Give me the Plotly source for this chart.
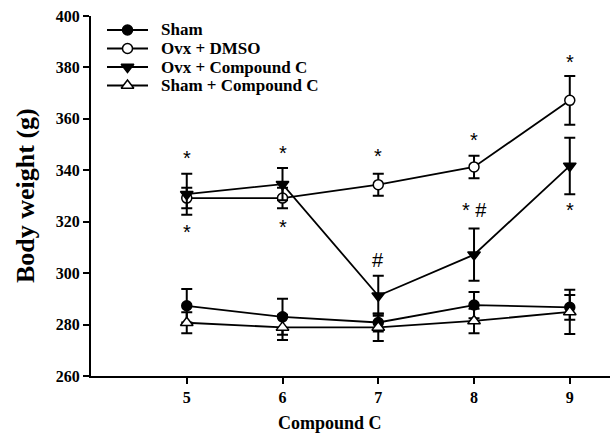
import plotly.graph_objects as go

# ---------------- data ----------------
weeks = [5, 6, 7, 8, 9]
series_names = ["Sham", "Ovx + DMSO", "Ovx + Compound C", "Sham + Compound C"]
sham = [287.3, 283.0, 280.8, 287.6, 286.7]
sham_err = [6.5, 7.0, 3.5, 5.1, 4.8]
ovx_dmso = [329.2, 329.2, 334.4, 341.3, 367.2]
ovx_dmso_err = [4.0, 4.0, 4.3, 4.4, 9.5]
ovx_cc = [330.7, 334.6, 291.2, 307.2, 341.7]
ovx_cc_err = [8.0, 6.3, 7.8, 10.2, 11.0]
sham_cc = [280.7, 278.9, 278.9, 281.4, 284.9]
sham_cc_err = [4.1, 4.9, 5.3, 4.8, 8.6]

y_ticks = [260, 280, 300, 320, 340, 360, 380, 400]

# significance marks: (week, body weight level, text)
sig_x = [5, 5, 6, 6, 7, 7, 8, 8, 9, 9]
sig_y = [346.2, 317.3, 348.2, 319.5, 346.8, 305.2, 353.3, 324.4, 383.6, 325.8]
sig_text = ["*", "*", "*", "*", "*", "#", "*", "* #", "*", "*"]

# ---------------- styles / layout constants ----------------
W, H = 610, 435
L, R, T, B = 91, 0, 16, 59
PW, PH = W - L - R, H - T - B


def px_x(px):
    return (px - L) / PW


def px_y(py):
    return (H - B - py) / PH


styles = [
    dict(symbol="circle", color="black", size=10),
    dict(symbol="circle", color="white", size=10),
    dict(symbol="triangle-down", color="black", size=11),
    dict(symbol="triangle-up", color="white", size=11),
]
data = [(sham, sham_err), (ovx_dmso, ovx_dmso_err), (ovx_cc, ovx_cc_err), (sham_cc, sham_cc_err)]

SERIF = "Liberation Serif, Times New Roman, serif"
SANS = "Liberation Sans, Arial, sans-serif"

fig = go.Figure()
for name, (vals, errs), st in zip(series_names, data, styles):
    fig.add_trace(go.Scatter(
        x=weeks, y=vals, name=name, mode="lines+markers", showlegend=False,
        line=dict(color="black", width=1.8),
        marker=dict(symbol=st["symbol"], color=st["color"], size=st["size"],
                    line=dict(color="black", width=1.5)),
        error_y=dict(type="data", array=errs, visible=True, color="black",
                     thickness=2, width=5.5),
        cliponaxis=False,
    ))

# significance annotations (asterisks sit high in the glyph box -> small offset)
for x, y, t in zip(sig_x, sig_y, sig_text):
    yy = y - 1.4 if t == "*" else y
    fig.add_annotation(x=x, y=yy, xref="x", yref="y", text=t, showarrow=False,
                       font=dict(family=SANS, size=20, color="black"))

# ---------------- manual legend (pixel-like overlay axes) ----------------
leg_rows = [30, 48.5, 67, 85.5]
leg_x0, leg_x1, leg_xm, leg_tx = 107, 148, 127.5, 159
for name, st, ry in zip(series_names, styles, leg_rows):
    fig.add_trace(go.Scatter(
        x=[leg_x0, leg_x1], y=[ry, ry], mode="lines", xaxis="x2", yaxis="y2",
        line=dict(color="black", width=1.8), showlegend=False, hoverinfo="skip"))
    fig.add_trace(go.Scatter(
        x=[leg_xm], y=[ry], mode="markers", xaxis="x2", yaxis="y2",
        marker=dict(symbol=st["symbol"], color=st["color"], size=st["size"],
                    line=dict(color="black", width=1.5)),
        showlegend=False, hoverinfo="skip"))
    fig.add_annotation(x=px_x(leg_tx), y=px_y(ry), xref="paper", yref="paper",
                       text="<b>" + name + "</b>",
                       showarrow=False, xanchor="left", yanchor="middle",
                       font=dict(family=SERIF, size=17, color="black"))

# axis titles
fig.add_annotation(x=px_x(330), y=px_y(423), xref="paper", yref="paper",
                   text="<b>Compound C</b>",
                   showarrow=False, xanchor="center", yanchor="middle",
                   font=dict(family=SERIF, size=18, color="black"))
fig.add_annotation(x=px_x(25), y=px_y(196), xref="paper", yref="paper",
                   text="<b>Body weight (g)</b>",
                   showarrow=False, textangle=-90, xanchor="center", yanchor="middle",
                   font=dict(family=SERIF, size=26, color="black"))

fig.update_layout(
    width=W, height=H,
    margin=dict(l=L, r=R, t=T, b=B),
    paper_bgcolor="white", plot_bgcolor="white",
    font=dict(family=SERIF, color="black"),
    showlegend=False,
    xaxis=dict(
        range=[4, 9.42], tickvals=weeks, ticktext=["<b>%d</b>" % w for w in weeks],
        showline=True, linecolor="black", linewidth=2,
        ticks="outside", ticklen=6, tickwidth=2, tickcolor="black",
        showgrid=False, zeroline=False,
        tickfont=dict(family=SERIF, size=16, color="black"),
    ),
    yaxis=dict(
        range=[260, 400], tickvals=y_ticks, ticktext=["<b>%d</b>" % v for v in y_ticks],
        showline=True, linecolor="black", linewidth=2,
        ticks="outside", ticklen=6, tickwidth=2, tickcolor="black",
        showgrid=False, zeroline=False,
        tickfont=dict(family=SERIF, size=16, color="black"),
    ),
    xaxis2=dict(range=[L, W - R], domain=[0, 1], overlaying="x", visible=False, fixedrange=True),
    yaxis2=dict(range=[H - B, T], domain=[0, 1], overlaying="y", visible=False, fixedrange=True),
)

fig.write_html("out.html", config={"displayModeBar": False},
               post_script="document.body.style.margin='0';")
